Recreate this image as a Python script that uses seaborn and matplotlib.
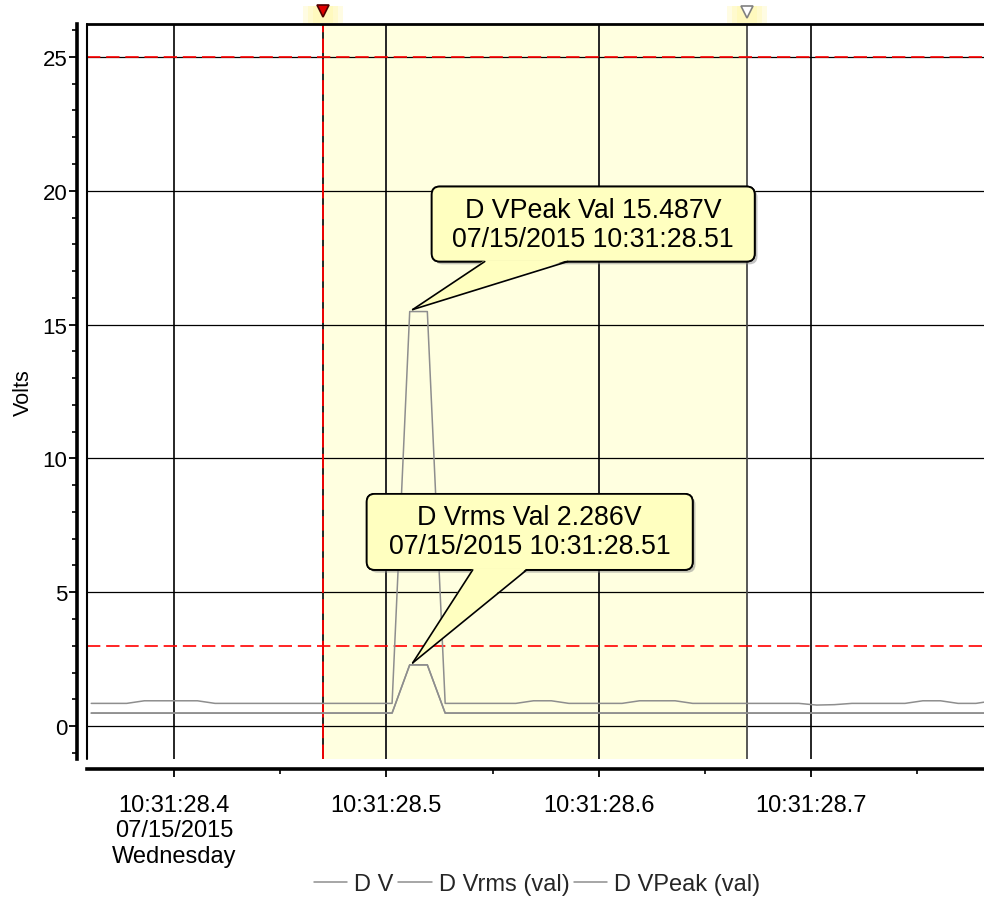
import numpy as np
import pandas as pd
import matplotlib
matplotlib.use("Agg")
import matplotlib.pyplot as plt
import matplotlib.transforms as mtransforms
import matplotlib.patheffects as pe
from matplotlib.patches import Rectangle, FancyBboxPatch, Polygon
from matplotlib.lines import Line2D
from matplotlib.ticker import MultipleLocator
import seaborn as sns

# ---- data: half-cycle samples (seconds within 10:31) ----
sample_sec = [
    28.3610, 28.3693, 28.3777, 28.3860, 28.3943, 28.4027, 28.4110, 28.4193,
    28.4277, 28.4360, 28.4443, 28.4527, 28.4610, 28.4693, 28.4777, 28.4860,
    28.4943, 28.5027, 28.5110, 28.5193, 28.5277, 28.5360, 28.5443, 28.5527,
    28.5610, 28.5693, 28.5777, 28.5860, 28.5943, 28.6027, 28.6110, 28.6193,
    28.6277, 28.6360, 28.6443, 28.6527, 28.6610, 28.6693, 28.6777, 28.6860,
    28.6943, 28.7027, 28.7110, 28.7193, 28.7277, 28.7360, 28.7443, 28.7527,
    28.7610, 28.7693, 28.7777, 28.7860,
]
d_vpeak = [
    0.848, 0.848, 0.848, 0.945, 0.945, 0.945, 0.945, 0.848,
    0.848, 0.848, 0.848, 0.848, 0.848, 0.848, 0.848, 0.848,
    0.848, 0.848, 15.487, 15.487, 0.848, 0.848, 0.848, 0.848,
    0.848, 0.945, 0.945, 0.848, 0.848, 0.848, 0.848, 0.945,
    0.945, 0.945, 0.848, 0.848, 0.848, 0.848, 0.848, 0.848,
    0.848, 0.785, 0.800, 0.848, 0.848, 0.848, 0.848, 0.945,
    0.945, 0.848, 0.848, 0.945,
]
d_vrms = [
    0.486, 0.486, 0.486, 0.486, 0.486, 0.486, 0.486, 0.486,
    0.486, 0.486, 0.486, 0.486, 0.486, 0.486, 0.486, 0.486,
    0.486, 0.486, 2.286, 2.286, 0.486, 0.486, 0.486, 0.486,
    0.486, 0.486, 0.486, 0.486, 0.486, 0.486, 0.486, 0.486,
    0.486, 0.486, 0.486, 0.486, 0.486, 0.486, 0.486, 0.486,
    0.486, 0.486, 0.486, 0.486, 0.486, 0.486, 0.486, 0.486,
    0.486, 0.486, 0.486, 0.486,
]
d_v = list(d_vrms)

series_names = ["D V", "D Vrms (val)", "D VPeak (val)"]

# ticks, cursors and thresholds
x_tick_sec = [28.4, 28.5, 28.6, 28.7]
x_tick_labels = ["10:31:28.4\n07/15/2015\nWednesday", "10:31:28.5",
                 "10:31:28.6", "10:31:28.7"]
y_ticks = [0, 5, 10, 15, 20, 25]
limit_levels = [25, 3]
cursor_a = 28.470
cursor_b = 28.670

peak_idx = 18
# text, anchor point, box (x0, y0, w, h) and pointer base (xa, xb) in pixels from the anchor
callouts = [
    ("D VPeak Val 15.487V\n07/15/2015 10:31:28.51",
     sample_sec[peak_idx], d_vpeak[peak_idx], (22, 50, 323, 75), (75, 158)),
    ("D Vrms Val 2.286V\n07/15/2015 10:31:28.51",
     sample_sec[peak_idx], d_vrms[peak_idx], (-43, 95, 326, 76), (63, 117)),
]

df = pd.DataFrame({
    "time": sample_sec * 3,
    "volts": d_v + d_vrms + d_vpeak,
    "series": [series_names[0]] * len(d_v) + [series_names[1]] * len(d_vrms)
              + [series_names[2]] * len(d_vpeak),
})

# ---- figure ----
sns.set_theme(style="white")
plt.rcParams["font.family"] = ["Liberation Sans", "DejaVu Sans"]

W, H = 984, 920
fig = plt.figure(figsize=(W / 100, H / 100), dpi=100)
ax = fig.add_axes([87 / W, 1 - 760 / H, 1 - 87 / W, (760 - 25) / H])

ax.set_xlim(28.359, 28.7815)
ax.set_ylim(-1.23, 26.23)

# cursor band
ax.axvspan(cursor_a, cursor_b, color="#FFFFE0", zorder=0, lw=0)

gray = "#8E8E8E"
sns.lineplot(data=df, x="time", y="volts", hue="series", hue_order=series_names,
             palette={n: gray for n in series_names}, estimator=None,
             sort=False, linewidth=1.1, ax=ax, zorder=3)

# grid
ax.set_axisbelow(True)
ax.grid(axis="y", which="major", color="black", lw=0.9)
ax.grid(axis="x", which="major", color="#262626", lw=1.4)

# limit lines and cursors
for lv in limit_levels:
    ax.axhline(lv, color="#FF0000", lw=1.2, ls=(0, (8, 3.5)), zorder=2)
ax.axvline(cursor_a, color="black", lw=1.2, zorder=1.5)
ax.axvline(cursor_a, color="#FF0000", lw=1.3, ls=(0, (8, 3.5)), zorder=2)
ax.axvline(cursor_b, color="#4A4A4A", lw=1.3, zorder=1.5)

# ticks
ax.set_yticks(y_ticks)
ax.yaxis.set_minor_locator(MultipleLocator(1))
ax.set_xticks(x_tick_sec, x_tick_labels)
ax.xaxis.set_minor_locator(MultipleLocator(0.05))
ax.tick_params(axis="both", which="major", direction="out", length=6, width=1.3,
               color="black", left=True, bottom=True, labelcolor="black")
ax.tick_params(axis="both", which="minor", direction="out", length=3.8, width=1.2,
               color="black", left=True, bottom=True)
ax.tick_params(axis="x", which="major", pad=12, labelsize=17)
ax.tick_params(axis="y", which="major", pad=1, labelsize=16)
for lbl in ax.get_xticklabels():
    lbl.set_linespacing(1.35)

ax.set_xlabel("")
ax.set_ylabel("Volts", fontsize=15.5, color="black", labelpad=6)

# spines
for s in ["left", "bottom"]:
    ax.spines[s].set_position(("outward", 7))
    ax.spines[s].set_linewidth(2.6)
    ax.spines[s].set_color("black")
ax.spines["top"].set_linewidth(2.0)
ax.spines["top"].set_color("black")
ax.spines["right"].set_visible(False)
ax.add_line(Line2D([0, 0], [0, 1], transform=ax.transAxes, color="black",
                   lw=1.5, clip_on=False, zorder=4))

# cursor handles above the plot
trans = mtransforms.blended_transform_factory(ax.transData, ax.transAxes)
px_per_sec = 2123.0
for cx in (cursor_a, cursor_b):
    for wpx, a in ((40, 0.35), (30, 0.4), (20, 0.5)):
        ax.add_patch(Rectangle((cx - wpx / 2 / px_per_sec, 1.0 + 1 / 735), wpx / px_per_sec,
                               17 / 735, transform=trans, fc="#FFF9B0", ec="none",
                               alpha=a, clip_on=False, zorder=1))
ax.plot([cursor_a], [1 + 13 / 735], marker="v", ms=9, mfc="#E00000", mec="#500000",
        mew=1.2, transform=trans, clip_on=False, zorder=6)
ax.plot([cursor_b], [1 + 12 / 735], marker="v", ms=8, mfc="white", mec="#808080",
        mew=1.2, transform=trans, clip_on=False, zorder=6)

# callouts: box and pointer laid out in pixels around the anchored value
box_fc = "#FFFFC0"
for text, tx, vy, (bx, by, bw, bh), (xa, xb) in callouts:
    T = mtransforms.Affine2D() + mtransforms.ScaledTranslation(tx, vy, ax.transData)
    box = FancyBboxPatch((bx, by), bw, bh, boxstyle="round,pad=0,rounding_size=8",
                         fc=box_fc, ec="black", lw=1.3, transform=T,
                         clip_on=False, zorder=7)
    box.set_path_effects([pe.withSimplePatchShadow(offset=(2, -2),
                                                   shadow_rgbFace="#888888", alpha=0.5),
                          pe.Normal()])
    ax.add_patch(box)
    tip = (3, 2)
    ax.add_patch(Polygon([(xa, by + 1.5), (xb, by + 1.5), tip], closed=True,
                         fc=box_fc, ec="none", transform=T, clip_on=False, zorder=7.1))
    for xe in (xa, xb):
        ax.add_line(Line2D([xe, tip[0]], [by, tip[1]], color="black", lw=1.2,
                           transform=T, clip_on=False, zorder=7.2))
    ax.text(bx + bw / 2, by + bh / 2, text, transform=T, ha="center", va="center",
            fontsize=19.3, color="black", linespacing=1.15, zorder=8)

# legend
sns.move_legend(ax, "center", bbox_to_anchor=(0.502, -0.170), ncol=3, frameon=False,
                title=None, fontsize=17, handlelength=1.4, handletextpad=0.3,
                columnspacing=0.2)
for h in ax.get_legend().get_lines():
    h.set_color(gray)
    h.set_linewidth(1.1)

fig.savefig("out.png", dpi=100)
